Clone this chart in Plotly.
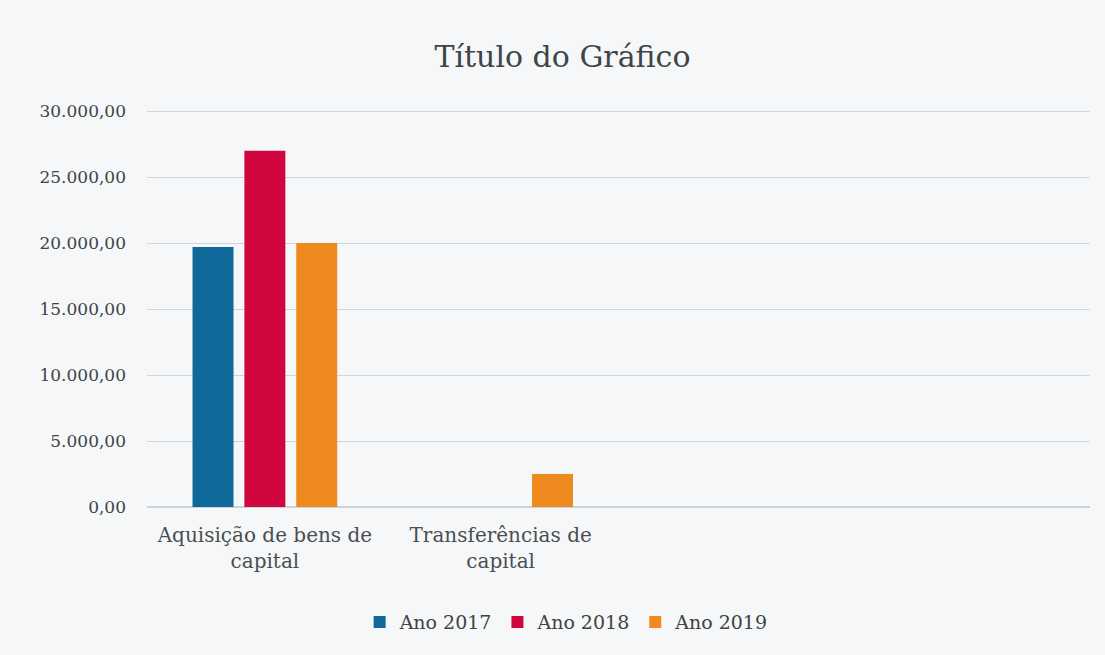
import plotly.graph_objects as go

categories = ["Aquisição de bens de<br>capital", "Transferências de<br>capital", "", ""]
cat_pos = [0, 1, 2, 3]
series_names = ["Ano 2017", "Ano 2018", "Ano 2019"]
ano_2017 = [19700, 0, None, None]
ano_2018 = [27000, 0, None, None]
ano_2019 = [20000, 2500, None, None]
y_ticks = [0, 5000, 10000, 15000, 20000, 25000, 30000]
y_tick_labels = ["0,00", "5.000,00", "10.000,00", "15.000,00", "20.000,00", "25.000,00", "30.000,00"]
colors = ["#0f6a9b", "#d0063f", "#ef8a1e"]

FONT = "DejaVu Serif"
fig = go.Figure()
for name, vals, c in zip(series_names, [ano_2017, ano_2018, ano_2019], colors):
    fig.add_trace(go.Bar(name=name, x=cat_pos, y=vals, marker=dict(color=c, line=dict(width=0))))

fig.update_layout(
    width=1105, height=655,
    barmode="group", bargap=0.34, bargroupgap=0.21,
    paper_bgcolor="#f5f7f9", plot_bgcolor="#f5f7f9",
    margin=dict(l=147, r=15, t=110, b=148),
    title=dict(text="Título do Gráfico", x=0.509, xanchor="center", y=0.913, yanchor="middle",
               font=dict(family=FONT, size=30, color="#3f4444")),
    font=dict(family=FONT, color="#4a4f50"),
    xaxis=dict(tickmode="array", tickvals=cat_pos, ticktext=categories, range=[-0.5, 3.5],
               showgrid=False, zeroline=False, showline=False, ticks="",
               ticklabelstandoff=14,
               tickfont=dict(size=20, color="#4a4f50")),
    yaxis=dict(tickmode="array", tickvals=y_ticks, ticktext=y_tick_labels, range=[0, 30080],
               showgrid=True, gridcolor="#d3d6d9", gridwidth=1, zeroline=True, zerolinecolor="#cfd2d5",
               showline=False, ticks="", ticklabelstandoff=20,
               tickfont=dict(size=17, color="#3f4444")),
    legend=dict(orientation="h", x=0.445, xanchor="center", y=-0.29, yanchor="middle",
                font=dict(size=19, color="#3f4444"), bgcolor="rgba(0,0,0,0)",
                itemwidth=30, traceorder="normal"),
    showlegend=True,
)

fig.write_html("out.html", config={"displayModeBar": False},
               post_script="document.body.style.margin='0';document.body.style.background='#f5f7f9';")
